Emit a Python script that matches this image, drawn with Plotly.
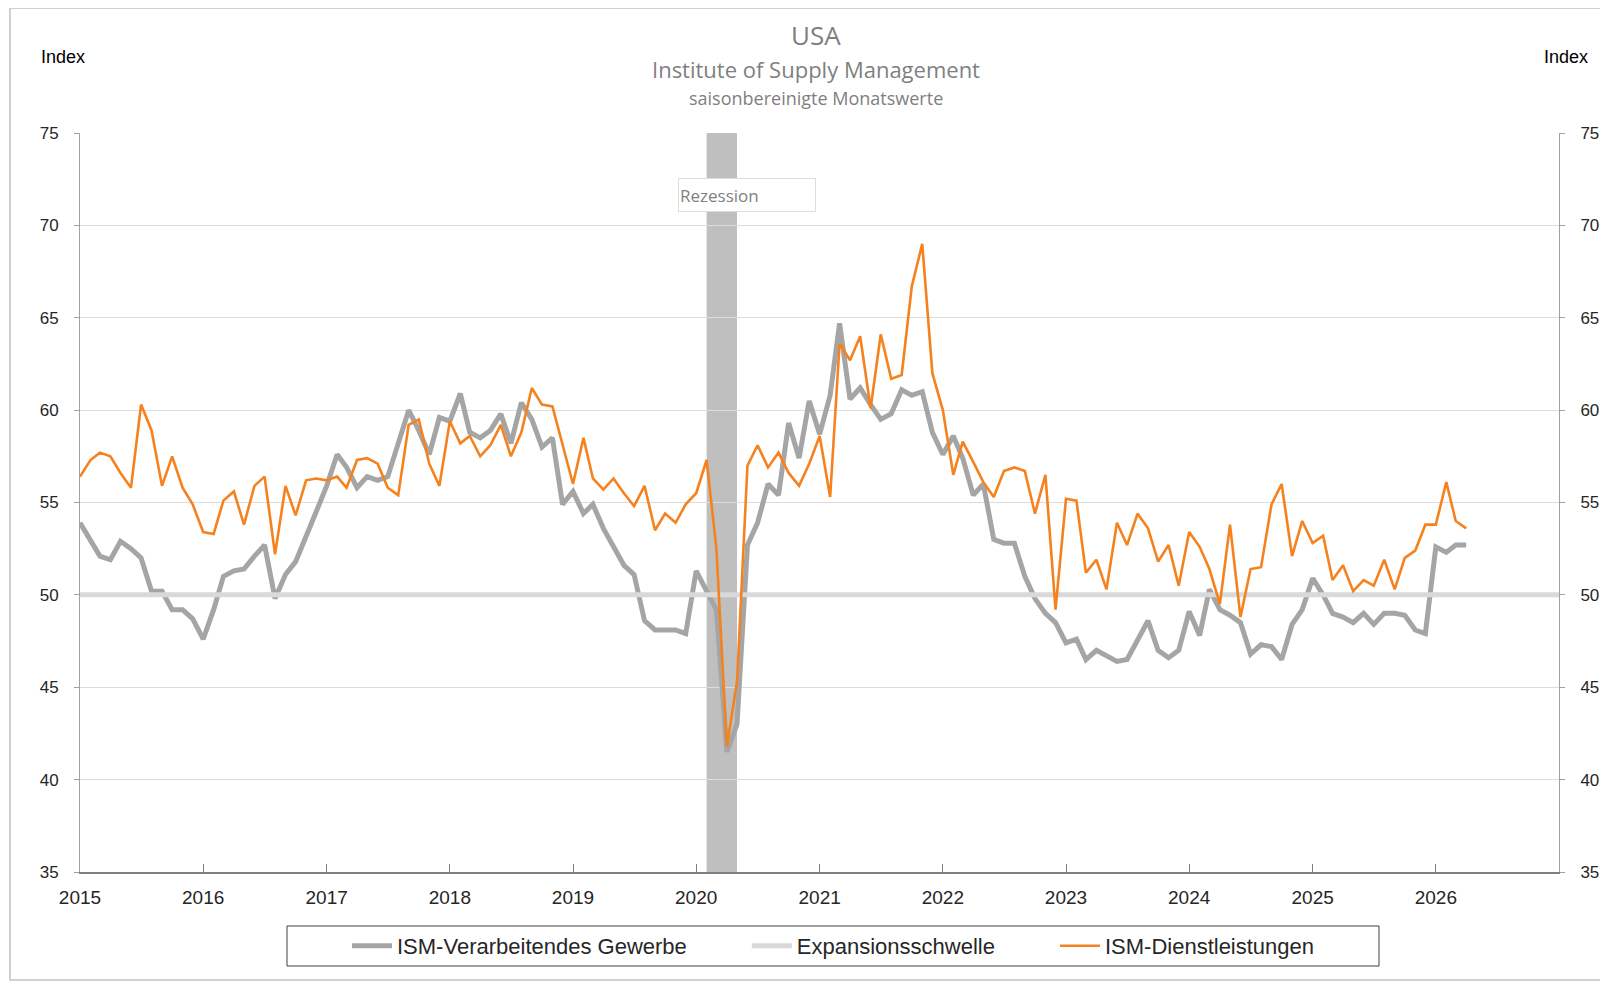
import pandas as pd
import plotly.graph_objects as go

# ---- data (monthly, Jan 2015 - Apr 2026) ----
start_month = "2015-01-01"
manufacturing = [
    53.9, 53.0, 52.1, 51.9, 52.9, 52.5, 52.0, 50.2, 50.2, 49.2, 49.2, 48.7,   # 2015
    47.6, 49.2, 51.0, 51.3, 51.4, 52.1, 52.7, 49.8, 51.1, 51.8, 53.1, 54.5,   # 2016
    55.9, 57.6, 56.9, 55.8, 56.4, 56.2, 56.4, 58.2, 60.0, 58.9, 57.6, 59.6,   # 2017
    59.4, 60.9, 58.8, 58.5, 58.9, 59.8, 58.2, 60.4, 59.5, 58.0, 58.5, 54.9,   # 2018
    55.6, 54.4, 54.9, 53.6, 52.6, 51.6, 51.1, 48.6, 48.1, 48.1, 48.1, 47.9,   # 2019
    51.3, 50.2, 49.2, 41.5, 43.0, 52.7, 53.9, 56.0, 55.4, 59.3, 57.4, 60.5,   # 2020
    58.7, 60.8, 64.7, 60.6, 61.2, 60.3, 59.5, 59.8, 61.1, 60.8, 61.0, 58.8,   # 2021
    57.6, 58.6, 57.4, 55.4, 56.0, 53.0, 52.8, 52.8, 51.0, 49.8, 49.0, 48.5,   # 2022
    47.4, 47.6, 46.5, 47.0, 46.7, 46.4, 46.5, 47.5, 48.6, 47.0, 46.6, 47.0,   # 2023
    49.1, 47.8, 50.3, 49.2, 48.9, 48.5, 46.8, 47.3, 47.2, 46.5, 48.4, 49.2,   # 2024
    50.9, 50.0, 49.0, 48.8, 48.5, 49.0, 48.4, 49.0, 49.0, 48.9, 48.1, 47.9,   # 2025
    52.6, 52.3, 52.7, 52.7,                                                   # 2026
]
services = [
    56.4, 57.3, 57.7, 57.5, 56.6, 55.8, 60.3, 58.9, 55.9, 57.5, 55.8, 54.9,   # 2015
    53.4, 53.3, 55.1, 55.6, 53.8, 55.9, 56.4, 52.2, 55.9, 54.3, 56.2, 56.3,   # 2016
    56.2, 56.4, 55.8, 57.3, 57.4, 57.1, 55.8, 55.4, 59.2, 59.5, 57.1, 55.9,   # 2017
    59.4, 58.2, 58.6, 57.5, 58.1, 59.2, 57.5, 58.8, 61.2, 60.3, 60.2, 58.2,   # 2018
    56.0, 58.5, 56.3, 55.7, 56.3, 55.5, 54.8, 55.9, 53.5, 54.4, 53.9, 54.9,   # 2019
    55.5, 57.3, 52.5, 41.8, 45.3, 57.0, 58.1, 56.9, 57.7, 56.6, 55.9, 57.1,   # 2020
    58.6, 55.3, 63.6, 62.7, 64.0, 60.1, 64.1, 61.7, 61.9, 66.7, 69.0, 62.0,   # 2021
    60.0, 56.5, 58.3, 57.2, 56.1, 55.3, 56.7, 56.9, 56.7, 54.4, 56.5, 49.2,   # 2022
    55.2, 55.1, 51.2, 51.9, 50.3, 53.9, 52.7, 54.4, 53.6, 51.8, 52.7, 50.5,   # 2023
    53.4, 52.6, 51.4, 49.5, 53.8, 48.8, 51.4, 51.5, 54.9, 56.0, 52.1, 54.0,   # 2024
    52.8, 53.2, 50.8, 51.6, 50.2, 50.8, 50.5, 51.9, 50.3, 52.0, 52.4, 53.8,   # 2025
    53.8, 56.1, 54.0, 53.6,                                                   # 2026
]
threshold = 50
axis_start, axis_end = "2015-01-01", "2027-01-01"
recession_start, recession_end = "2020-02-01", "2020-05-01"
year_ticks = [str(y) for y in range(2015, 2027)]
y_ticks = [35, 40, 45, 50, 55, 60, 65, 70, 75]
series_names = ["ISM-Verarbeitendes Gewerbe", "Expansionsschwelle", "ISM-Dienstleistungen"]

dates = pd.date_range(start_month, periods=len(manufacturing), freq="MS")

TICK_FONT = dict(family="Liberation Sans, Arial", size=19, color="#262626")
YTICK_FONT = dict(family="Liberation Sans, Arial", size=17, color="#262626")
PAD = "\u00a0" * 9

fig = go.Figure()
fig.add_trace(go.Scatter(x=dates, y=manufacturing, mode="lines", name=series_names[0] + PAD,
                         line=dict(color="#a5a5a5", width=5)))
fig.add_trace(go.Scatter(x=[axis_start, axis_end], y=[threshold, threshold], mode="lines",
                         name=series_names[1] + PAD, line=dict(color="#d9d9d9", width=5)))
fig.add_trace(go.Scatter(x=dates, y=services, mode="lines", name=series_names[2],
                         line=dict(color="#f5821f", width=2.6)))
# dummy trace for the right-hand axis
fig.add_trace(go.Scatter(x=[dates[0]], y=[None], yaxis="y2", showlegend=False,
                         hoverinfo="skip", mode="lines"))

fig.add_shape(type="rect", xref="x", yref="paper", x0=recession_start, x1=recession_end,
              y0=0, y1=1, fillcolor="#bfbfbf", line_width=0, layer="between")


def py(yf):
    return (872 - yf) / 739


def px(xf):
    return (xf - 80) / 1479


# outer frame
fig.add_shape(type="rect", xref="paper", yref="paper",
              x0=px(10), x1=px(1625), y0=py(980), y1=py(8),
              line=dict(color="#d0d0d0", width=2), fillcolor="rgba(0,0,0,0)", layer="below")
# legend frame
fig.add_shape(type="rect", xref="paper", yref="paper",
              x0=px(287), x1=px(1379), y0=py(966), y1=py(926),
              line=dict(color="#404040", width=1), fillcolor="rgba(0,0,0,0)", layer="above")

fig.update_layout(
    width=1608, height=981,
    margin=dict(l=72, r=57, t=125, b=117),
    paper_bgcolor="white", plot_bgcolor="white",
    showlegend=True,
    legend=dict(orientation="h", x=px(347), xanchor="left", y=py(925), yanchor="top",
                borderwidth=0, bgcolor="rgba(0,0,0,0)",
                font=dict(family="Liberation Sans, Arial", size=22, color="#262626"),
                itemwidth=40),
    xaxis=dict(type="date", range=[axis_start, axis_end],
               tickvals=[f"{y}-01-01" for y in year_ticks], ticktext=year_ticks,
               showgrid=False, showline=True, linecolor="#7f7f7f", linewidth=2,
               ticks="inside", ticklen=8, tickcolor="#7f7f7f",
               tickfont=TICK_FONT, ticklabelstandoff=7, zeroline=False),
    yaxis=dict(range=[35, 75], tickvals=y_ticks, showgrid=True, gridcolor="#dcdcdc", gridwidth=1,
               showline=True, linecolor="#a0a0a0", linewidth=1, ticks="outside", ticklen=5,
               tickcolor="#a0a0a0", tickfont=YTICK_FONT, ticklabelstandoff=12, zeroline=False),
    yaxis2=dict(range=[35, 75], tickvals=y_ticks, overlaying="y", side="right", showgrid=False,
                showline=True, linecolor="#a0a0a0", linewidth=1, ticks="outside", ticklen=5,
                tickcolor="#a0a0a0", tickfont=YTICK_FONT, ticklabelstandoff=12, zeroline=False),
)

ann = [
    dict(text="USA", x=px(816), y=py(35), font=dict(family="Open Sans", size=26, color="#7f7f7f")),
    dict(text="Institute of Supply Management", x=px(816), y=py(69),
         font=dict(family="Open Sans", size=22, color="#7f7f7f")),
    dict(text="saisonbereinigte Monatswerte", x=px(816), y=py(98),
         font=dict(family="Open Sans", size=18, color="#7f7f7f")),
    dict(text="Index", x=px(63), y=py(57), font=dict(family="Liberation Sans, Arial", size=18, color="#000000")),
    dict(text="Index", x=px(1566), y=py(57), font=dict(family="Liberation Sans, Arial", size=18, color="#000000")),
]
for a in ann:
    fig.add_annotation(xref="paper", yref="paper", showarrow=False, xanchor="center",
                       yanchor="middle", **a)

fig.add_annotation(text="Rezession", xref="x", yref="y", x="2019-11-08", y=71.66,
                   xanchor="left", yanchor="middle", showarrow=False, align="left",
                   width=134, height=30, bgcolor="white", bordercolor="#dddddd", borderwidth=1,
                   font=dict(family="Open Sans", size=17, color="#7f7f7f"))

fig.write_html("out.html")
